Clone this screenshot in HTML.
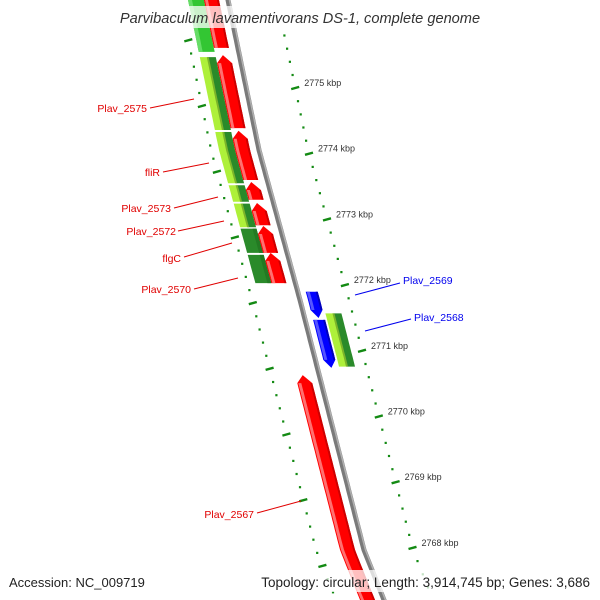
<!DOCTYPE html>
<html><head><meta charset="utf-8"><style>
html,body{margin:0;padding:0;background:#fff;}
svg{display:block;font-family:"Liberation Sans","DejaVu Sans",sans-serif;}
</style></head><body>
<svg id="map" width="600" height="600" viewBox="0 0 600 600" xmlns="http://www.w3.org/2000/svg">
<g id="tracks"></g>
<g id="genes"></g>
<g id="labels"></g>
<rect x="110" y="6" width="382" height="22" fill="#fff" opacity="0.75"/>
<text x="300" y="23" text-anchor="middle" font-size="14.6" font-style="italic" fill="#333">Parvibaculum lavamentivorans DS-1, complete genome</text>
<rect x="0" y="570" width="600" height="22" fill="#fff" opacity="0.75"/>
<text x="9" y="587" font-size="13" fill="#222">Accession: NC_009719</text>
<text x="590" y="587" text-anchor="end" font-size="13.5" fill="#222">Topology: circular; Length: 3,914,745 bp; Genes: 3,686</text>
</svg>
<script>
// ---- data (kbp) ----
var tickKbp = [2776, 2775, 2774, 2773, 2772, 2771, 2770, 2769, 2768, 2767];
var tickLabels = ["2776 kbp","2775 kbp","2774 kbp","2773 kbp","2772 kbp","2771 kbp","2770 kbp","2769 kbp","2768 kbp","2767 kbp"];
var geneNames  = ["", "Plav_2575", "fliR", "Plav_2573", "Plav_2572", "flgC", "Plav_2570", "Plav_2569", "Plav_2568", "Plav_2567"];
var geneStart  = [2775.61, 2774.39, 2773.60, 2773.30, 2772.91, 2772.49, 2772.03, 2771.50, 2770.74, 2767.00];
var geneEnd    = [2776.49, 2775.50, 2774.35, 2773.57, 2773.25, 2772.90, 2772.49, 2771.90, 2771.47, 2770.63];
var geneStrand = [1, 1, 1, 1, 1, 1, 1, -1, -1, 1];
var cogStart   = [2775.55, 2774.36, 2773.55, 2773.27, 2772.88, 2772.49, 2772.03, 2770.76];
var cogEnd     = [2776.49, 2775.47, 2774.33, 2773.52, 2773.24, 2772.86, 2772.46, 2771.57];
var cogType    = ["bright", "pair", "pair", "pair", "pair", "dark", "dark", "pair"];
var cogSide    = [-1, -1, -1, -1, -1, -1, -1, 1];

// ---- layout ----
var NS = "http://www.w3.org/2000/svg";
var anchorsY = [0, 150, 300, 550, 600];
var anchorsX = [228, 259, 300, 364, 384];
function bx(y){
  if (y <= anchorsY[0]) return anchorsX[0] + (y - anchorsY[0]) * 0.207;
  for (var i = 1; i < anchorsY.length; i++) {
    if (y <= anchorsY[i]) {
      var t = (y - anchorsY[i-1]) / (anchorsY[i] - anchorsY[i-1]);
      return anchorsX[i-1] + t * (anchorsX[i] - anchorsX[i-1]);
    }
  }
  var n = anchorsY.length - 1;
  return anchorsX[n] + (y - anchorsY[n]) * 0.4;
}
function yScale(k){ return 88 + (2775 - k) * 65.7; }
function mk(tag, attrs, parent){
  var e = document.createElementNS(NS, tag);
  for (var a in attrs) e.setAttribute(a, attrs[a]);
  parent.appendChild(e); return e;
}
function bandPts(y1, y2, o1, o2){
  var L = [], R = [];
  var n = Math.max(2, Math.ceil((y2 - y1) / 5));
  for (var i = 0; i <= n; i++) {
    var y = y1 + (y2 - y1) * i / n;
    L.push((bx(y) + o1).toFixed(1) + "," + y.toFixed(1));
    R.unshift((bx(y) + o2).toFixed(1) + "," + y.toFixed(1));
  }
  return L.concat(R);
}
var tracks = document.getElementById("tracks");
var genesG = document.getElementById("genes");
var labelsG = document.getElementById("labels");

// backbone
var bb = [];
for (var y = -10; y <= 610; y += 5) bb.push(bx(y).toFixed(1) + "," + y);
var bbl = mk("polyline", {points: bb.join(" "), fill: "none", stroke: "#7a7a7a", "stroke-width": 5}, tracks);


var bbh = mk("polyline", {points: bb.join(" "), fill: "none", stroke: "#b0b0b0", "stroke-width": 1.5, transform: "translate(1.5,0)"}, tracks);



// dotted tick tracks
function drawTrack(off, dy, withLabels, name){
  var g = mk("g", {}, tracks);
  
  
  var kMin = tickKbp[tickKbp.length - 1], kMax = tickKbp[0];
  for (var s = Math.round(kMin * 10); s <= Math.round(kMax * 10) + 5; s += 2) {
    var k = s / 10;
    var yy = yScale(k) + dy;
    if (yy < 28 || yy > 598) continue;
    var major = (s % 10 === 0);
    var cx = bx(yy) + off;
    if (major) {
      var d = mk("line", {x1: (cx - 4).toFixed(1), y1: (yy + 1.1).toFixed(1), x2: (cx + 4).toFixed(1), y2: (yy - 1.1).toFixed(1), stroke: "#138a13", "stroke-width": 2.4}, g);
      
      
    } else {
      var r = mk("rect", {x: (cx - 1).toFixed(1), y: (yy - 1).toFixed(1), width: 2.2, height: 2.2, fill: "#138a13"}, g);
      
      
    }
  }
  if (withLabels) {
    for (var i = 0; i < tickKbp.length; i++) {
      var yy2 = yScale(tickKbp[i]) + dy;
      if (yy2 < 40 || yy2 > 560) continue;
      var t = mk("text", {x: (bx(yy2) + off + 9).toFixed(1), y: (yy2 - 2).toFixed(1), "font-size": 9, fill: "#333"}, g);
      t.textContent = tickLabels[i];
      
      
    }
  }
}
drawTrack(-48, 18, false, "inner-tick-track");
drawTrack(49, 0, true, "outer-tick-track");

// COG colour track
for (var c = 0; c < cogStart.length; c++) {
  var y1 = yScale(cogEnd[c]), y2 = yScale(cogStart[c]);
  var base = cogSide[c] < 0 ? -40 : 22;
  var g = mk("g", {}, genesG);
  
  
  if (cogType[c] === "bright") {
    mk("polygon", {points: bandPts(y1, y2, base, base + 16).join(" "), fill: "#33c633"}, g);
    mk("polygon", {points: bandPts(y1, y2, base, base + 4).join(" "), fill: "#66dd66"}, g);
  } else if (cogType[c] === "pair") {
    mk("polygon", {points: bandPts(y1, y2, base, base + 8).join(" "), fill: "#aef03a"}, g);
    mk("polygon", {points: bandPts(y1, y2, base + 8, base + 16).join(" "), fill: "#2a8a2a"}, g);
    mk("polygon", {points: bandPts(y1, y2, base + 7, base + 9).join(" "), fill: "#7bb42a"}, g);
  } else {
    mk("polygon", {points: bandPts(y1, y2, base, base + 16).join(" "), fill: "#2a8a2a"}, g);
    mk("polygon", {points: bandPts(y1, y2, base + 12, base + 16).join(" "), fill: "#237a23"}, g);
  }
}

// genes
for (var i = 0; i < geneNames.length; i++) {
  var y1 = yScale(geneEnd[i]), y2 = yScale(geneStart[i]);
  var fwd = geneStrand[i] > 0;
  var o1 = fwd ? -24 : 8, o2 = fwd ? -9 : 20;
  var main = fwd ? "#ff0000" : "#0000ff", light = fwd ? "#ff7070" : "#5555ff", dark = fwd ? "#cc0000" : "#0000bb";
  var head = 8;
  var g = mk("g", {}, genesG);
  
  
  var pts;
  if (fwd) {
    var b = bandPts(y1 + head, y2, o1, o2);
    var tipY = y1, tipX = bx(y1) + (o1 + o2) / 2;
    pts = b.concat([tipX.toFixed(1) + "," + tipY.toFixed(1)]);
    mk("polygon", {points: pts.join(" "), fill: main}, g);
    mk("polygon", {points: bandPts(y1 + head, y2, o1 + 1, o1 + 4).join(" "), fill: light}, g);
    mk("polygon", {points: bandPts(y1 + head, y2, o2 - 2, o2).join(" "), fill: dark}, g);
  } else {
    var b2 = bandPts(y1, y2 - head, o1, o2);
    var tipY2 = y2, tipX2 = bx(y2) + (o1 + o2) / 2;
    var half = b2.length / 2;
    pts = b2.slice(0, half).concat([tipX2.toFixed(1) + "," + tipY2.toFixed(1)]).concat(b2.slice(half));
    mk("polygon", {points: pts.join(" "), fill: main}, g);
    mk("polygon", {points: bandPts(y1, y2 - head, o1 + 1, o1 + 4).join(" "), fill: light}, g);
    mk("polygon", {points: bandPts(y1, y2 - head, o2 - 2, o2).join(" "), fill: dark}, g);
  }
}

// labels (leader lines)
var labelDefs = [
  ["Plav_2575", 147, 112, 150, 108, 194, 99, "#e00000", "end"],
  ["fliR", 160, 176, 163, 172, 209, 163, "#e00000", "end"],
  ["Plav_2573", 171, 212, 174, 208, 218, 197, "#e00000", "end"],
  ["Plav_2572", 176, 235, 178, 231, 224, 221, "#e00000", "end"],
  ["flgC", 181, 262, 184, 257, 232, 243, "#e00000", "end"],
  ["Plav_2570", 191, 293, 194, 289, 238, 278, "#e00000", "end"],
  ["Plav_2569", 403, 284, 400, 283, 355, 295, "#0000ee", "start"],
  ["Plav_2568", 414, 321, 411, 319, 365, 331, "#0000ee", "start"],
  ["Plav_2567", 254, 518, 257, 513, 301, 501, "#e00000", "end"]
];
labelDefs.forEach(function(d){
  var ln = mk("line", {x1: d[3], y1: d[4], x2: d[5], y2: d[6], stroke: d[7], "stroke-width": 1}, labelsG);
  
  
  var t = mk("text", {x: d[1], y: d[2], "font-size": 10.5, fill: d[7], "text-anchor": d[8]}, labelsG);
  t.textContent = d[0];
  
  
});
</script>
</body></html>
